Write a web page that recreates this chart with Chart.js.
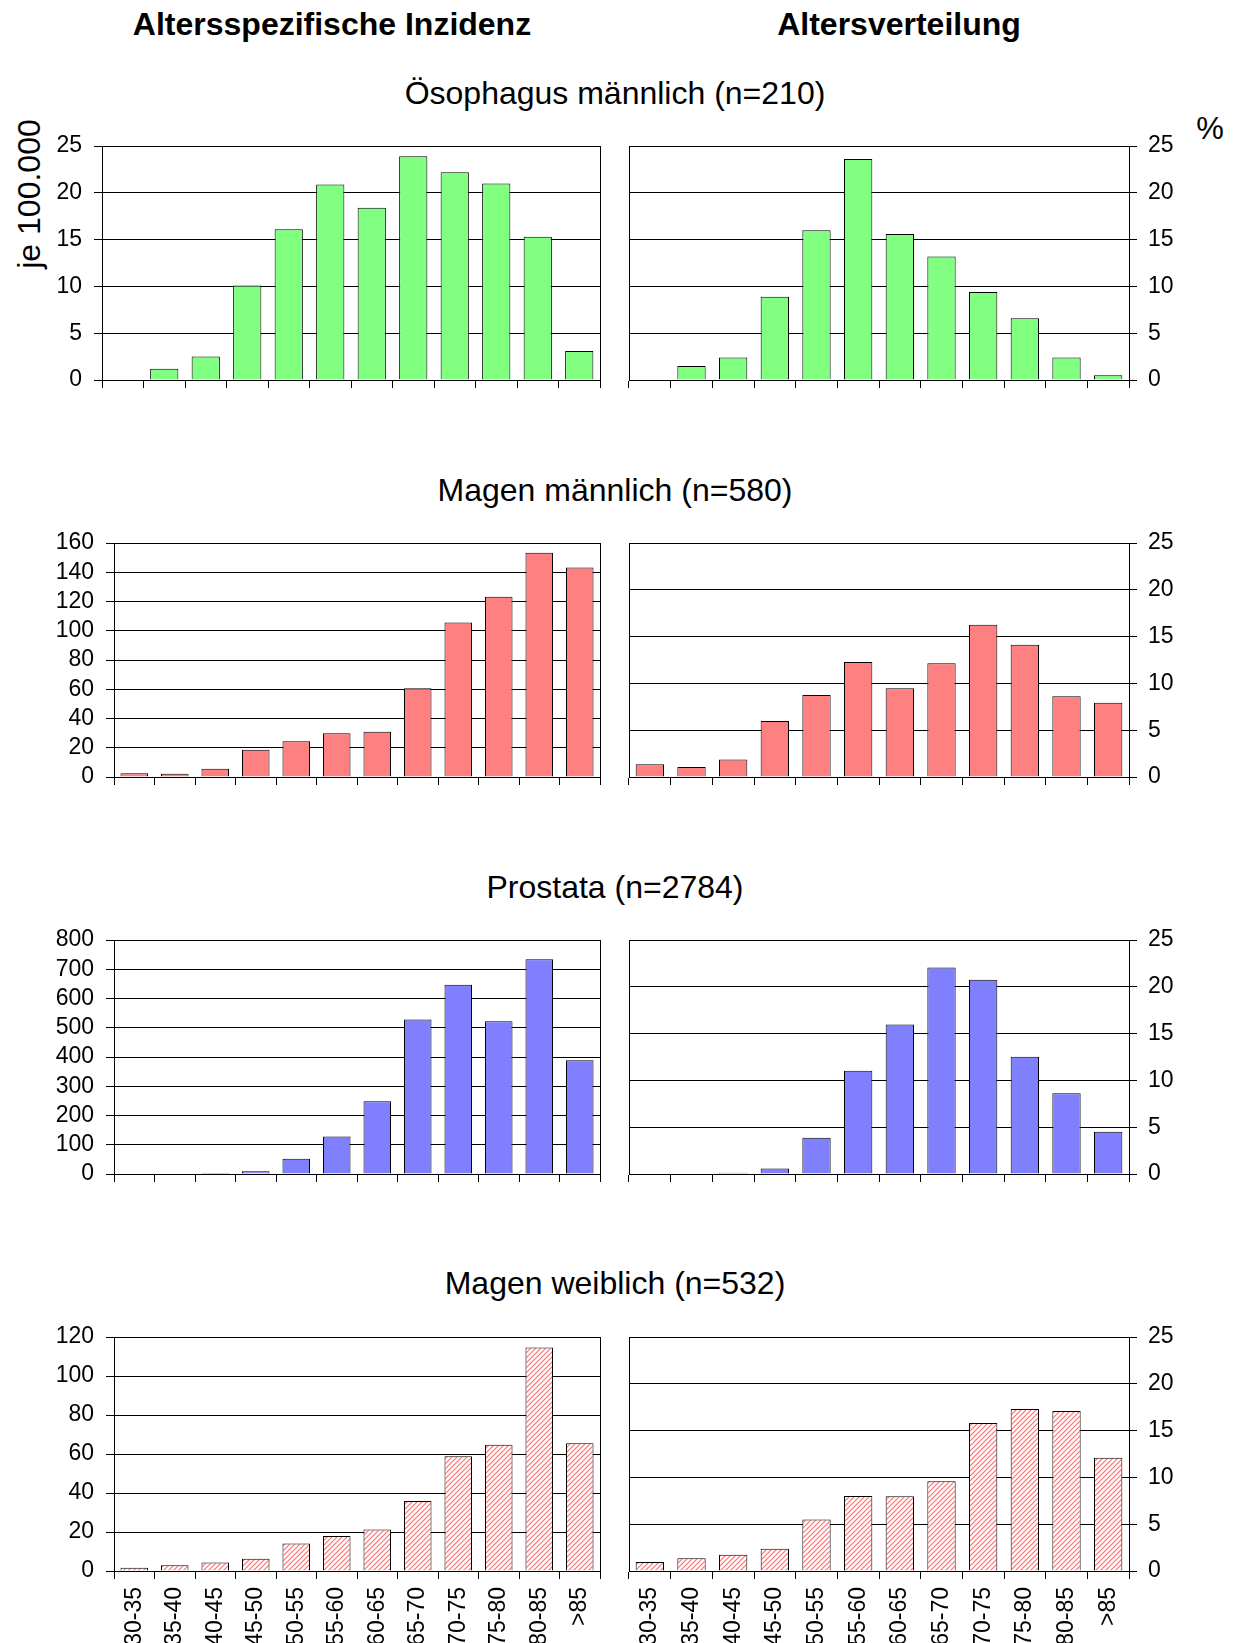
<!DOCTYPE html>
<html>
<head>
<meta charset="utf-8">
<script src="https://cdn.jsdelivr.net/npm/chart.js@4.4.1/dist/chart.umd.min.js"></script>
<style>
  body { margin: 0; background: #fff; }
  #page { position: relative; width: 1235px; height: 1643px; overflow: hidden; font-family: "Liberation Sans", Arial, sans-serif; color: #000; }
  .t { position: absolute; white-space: nowrap; transform: translate(-50%, -50%); }
  .head { font-weight: bold; font-size: 32px; }
  .row { font-size: 32px; }
  canvas { position: absolute; }
</style>
</head>
<body>
<div id="page">
  <div class="t head" style="left:332px; top:24px;">Altersspezifische Inzidenz</div>
  <div class="t head" style="left:899px; top:24px;">Altersverteilung</div>
  <div class="t row" style="left:615px; top:93px;">Ösophagus männlich (n=210)</div>
  <div class="t row" style="left:615px; top:490px;">Magen männlich (n=580)</div>
  <div class="t row" style="left:615px; top:887px;">Prostata (n=2784)</div>
  <div class="t row" style="left:615px; top:1283px;">Magen weiblich (n=532)</div>
  <div class="t" style="left:29px; top:194px; font-size:32px; transform:translate(-50%,-50%) rotate(-90deg);">je 100.000</div>
  <div class="t" style="left:1210px; top:129px; font-size:31px;">%</div>
</div>
<script>
const ageGroups = ['30-35', '35-40', '40-45', '45-50', '50-55', '55-60', '60-65', '65-70', '70-75', '75-80', '80-85', '>85'];

// Altersspezifische Inzidenz (je 100.000)
const oesoInzidenz = [0, 1.2, 2.5, 10.1, 16.1, 20.9, 18.4, 23.9, 22.2, 21.0, 15.3, 3.1];
const magenMInzidenz = [2.5, 2.3, 5.7, 18.6, 24.5, 30.0, 30.9, 60.7, 105.7, 123.2, 153.4, 143.2];
const prostataInzidenz = [0, 0, 3, 9, 52, 128, 249, 528, 647, 522, 734, 389];
const magenWInzidenz = [1.7, 2.9, 4.4, 6.3, 14.1, 18.0, 21.3, 35.9, 58.9, 64.7, 114.6, 65.5];

// Altersverteilung (%)
const oesoVerteilung = [0, 1.5, 2.4, 8.9, 16.0, 23.6, 15.6, 13.2, 9.4, 6.6, 2.4, 0.5];
const magenMVerteilung = [1.35, 1.07, 1.88, 5.97, 8.77, 12.29, 9.48, 12.14, 16.26, 14.13, 8.63, 7.92];
const prostataVerteilung = [0, 0, 0.14, 0.6, 3.87, 11.04, 15.98, 22.05, 20.74, 12.54, 8.63, 4.51];
const magenWVerteilung = [0.96, 1.35, 1.74, 2.38, 5.5, 8.0, 7.98, 9.6, 15.8, 17.3, 17.1, 12.1];

const inzidenzMax = [25, 160, 800, 120];
const inzidenzStep = [5, 20, 100, 20];

const page = document.getElementById('page');
const rowTops = [146, 543, 940, 1337];
const plotH = 234;
const padTop = 28;
const padSide = 22;
const tickFont = { family: '"Liberation Sans", Arial, sans-serif', size: 23 };

// frame around the plot area
const framePlugin = {
  id: 'frame',
  afterDatasetsDraw(chart) {
    const a = chart.chartArea;
    const ctx = chart.ctx;
    ctx.save();
    ctx.strokeStyle = '#000';
    ctx.lineWidth = 1;
    ctx.strokeRect(Math.round(a.left) + 0.5, Math.round(a.top) + 0.5, Math.round(a.right - a.left), Math.round(a.bottom - a.top));
    ctx.restore();
  }
};

function hatch(ctx) {
  const c = document.createElement('canvas');
  c.width = 5; c.height = 5;
  const g = c.getContext('2d');
  g.fillStyle = '#fff';
  g.fillRect(0, 0, 5, 5);
  g.strokeStyle = '#ff7070';
  g.lineWidth = 1.2;
  g.beginPath();
  g.moveTo(-1, 6); g.lineTo(6, -1);
  g.moveTo(-4, 4); g.lineTo(4, -4);
  g.moveTo(1, 9); g.lineTo(9, 1);
  g.stroke();
  return ctx.createPattern(c, 'repeat');
}

function makeChart(row, side, values, fill, yMax, step) {
  const last = row === 3;
  const xH = last ? 1643 - (rowTops[row] + plotH) : 28;
  const cv = document.createElement('canvas');
  // plot area spans 102/114..600 on the left, 629..1129 on the right
  const left = side === 'left' ? 0 : 629 - padSide;
  const w = side === 'left' ? 600 + padSide : 1235 - left;
  const h = padTop + plotH + xH;
  cv.width = w; cv.height = h;
  cv.style.left = left + 'px';
  cv.style.top = (rowTops[row] - padTop) + 'px';
  cv.style.width = w + 'px';
  cv.style.height = h + 'px';
  page.appendChild(cv);
  const ctx = cv.getContext('2d');
  const yW = side === 'left' ? (row === 0 ? 102 : 114) : 106;
  const bg = fill === 'hatch' ? hatch(ctx) : fill;

  new Chart(ctx, {
    type: 'bar',
    data: {
      labels: ageGroups,
      datasets: [{
        data: values,
        backgroundColor: bg,
        borderColor: '#000',
        borderWidth: 1,
        borderSkipped: 'bottom',
        barPercentage: 0.68,
        categoryPercentage: 1
      }]
    },
    options: {
      responsive: false,
      animation: false,
      devicePixelRatio: 1,
      layout: { padding: side === 'left' ? { top: padTop, right: padSide, left: 0, bottom: 0 } : { top: padTop, left: padSide, right: 0, bottom: 0 } },
      plugins: { legend: { display: false }, tooltip: { enabled: false } },
      scales: {
        x: {
          offset: true,
          grid: { offset: true, drawOnChartArea: false, drawTicks: true, tickLength: 8, color: '#000', lineWidth: 1 },
          border: { display: true, color: '#000', width: 1 },
          ticks: {
            display: last,
            autoSkip: false,
            minRotation: 90,
            maxRotation: 90,
            padding: 8,
            color: '#000',
            font: tickFont
          },
          afterFit(s) { s.height = xH; }
        },
        y: {
          position: side,
          min: 0,
          max: yMax,
          ticks: {
            stepSize: step,
            autoSkip: false,
            padding: side === 'left' ? 12 : 11,
            color: '#000',
            font: tickFont
          },
          grid: { color: '#000', lineWidth: 1, tickLength: 8, drawTicks: true },
          border: { display: true, color: '#000', width: 1 },
          afterFit(s) { s.width = yW; }
        }
      }
    },
    plugins: [framePlugin]
  });
}

const inzidenz = [oesoInzidenz, magenMInzidenz, prostataInzidenz, magenWInzidenz];
const verteilung = [oesoVerteilung, magenMVerteilung, prostataVerteilung, magenWVerteilung];
const fills = ['#80ff80', '#ff8080', '#8080ff', 'hatch'];

for (let r = 0; r < 4; r++) {
  makeChart(r, 'left', inzidenz[r], fills[r], inzidenzMax[r], inzidenzStep[r]);
  makeChart(r, 'right', verteilung[r], fills[r], 25, 5);
}
</script>
</body>
</html>
